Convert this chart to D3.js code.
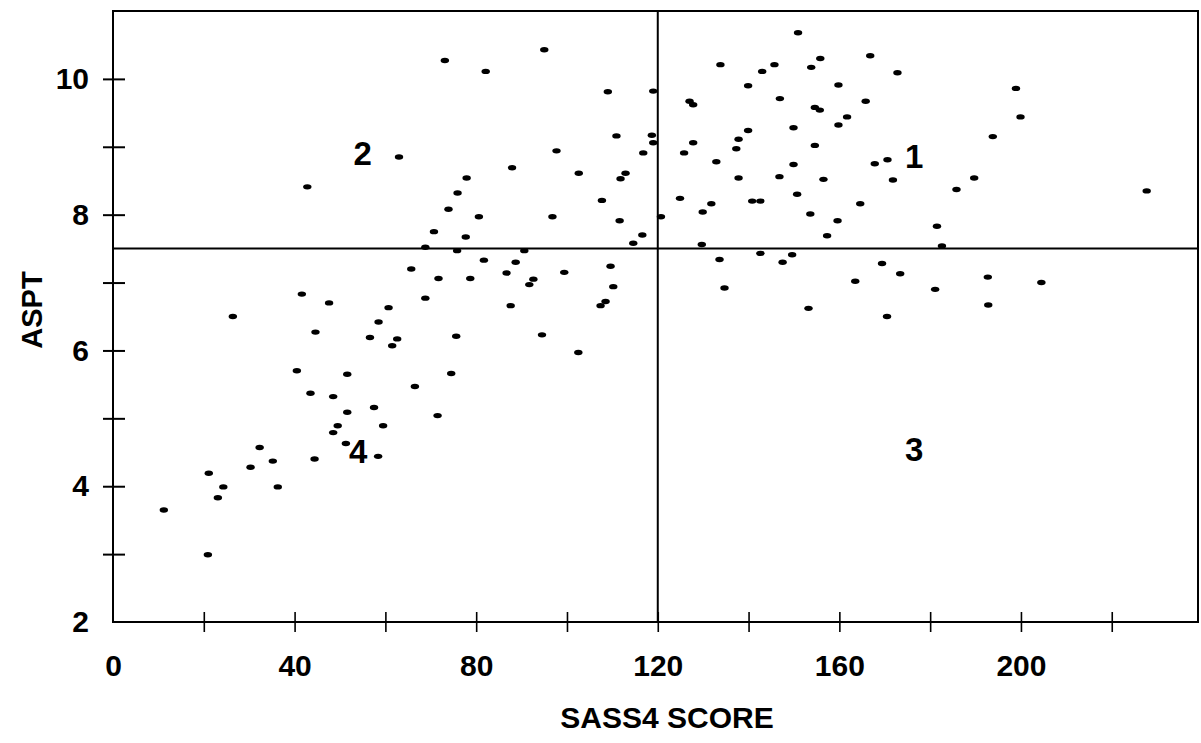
<!DOCTYPE html>
<html>
<head>
<meta charset="utf-8">
<script src="https://cdn.jsdelivr.net/npm/d3@7"></script>
<style>
  body { margin: 0; background: #fff; }
  svg { display: block; }
  text { font-family: "Liberation Sans", Arial, sans-serif; fill: #000; }
</style>
</head>
<body>
<div id="chart"></div>
<script>
// SASS4 score vs ASPT
var sass = [
  42.8, 41.6, 47.6, 26.4, 58.5, 44.6, 56.6, 40.5, 51.6, 43.5, 48.5, 57.5, 51.6, 49.5, 48.5, 51.3, 58.4, 44.4,
  32.3, 35.2, 30.3, 21.1, 24.3, 36.3, 23.1, 11.2, 20.9,
  62.6, 61.5, 75.6, 94.5, 102.5, 74.5, 66.5, 71.5, 59.5,
  95.0, 73.1, 82.1, 109.0, 119.0, 110.9, 118.7, 119.0, 116.8, 97.7, 63.0, 87.9, 102.6, 112.9, 111.8, 77.9,
  75.9, 73.9, 107.7, 80.6, 96.8, 120.7, 111.6, 70.7, 77.7, 116.6, 114.6, 68.8, 75.8, 90.6,
  81.7, 88.7, 65.7, 71.7, 78.7, 86.7, 92.6, 91.7, 99.4, 109.6, 110.2, 108.5, 107.4, 68.8, 87.6, 60.7,
  150.9, 133.8, 145.7, 143.0, 153.8, 155.8, 166.8, 172.8, 139.9, 159.8, 127.0, 127.8, 146.9, 165.8, 154.6,
  155.7, 161.7, 159.8, 149.9, 139.9, 137.8, 137.3, 127.8, 125.8, 154.6, 132.9, 149.9, 167.8, 170.6, 171.8,
  137.8, 146.8, 156.5, 124.9, 129.9, 131.8, 140.8, 142.6, 150.7, 164.6, 153.6, 159.6, 157.3, 181.5, 182.6, 129.7,
  133.6, 134.7, 142.6, 147.5, 149.6, 153.2, 163.5, 169.4, 173.4, 170.5, 181.1,
  198.9, 199.9, 193.8, 189.7, 185.8, 227.7, 192.7, 204.5, 192.8
];
var aspt = [
  8.41, 6.83, 6.70, 6.50, 6.42, 6.27, 6.19, 5.70, 5.65, 5.37, 5.32, 5.16, 5.09, 4.89, 4.79, 4.63, 4.44, 4.40,
  4.57, 4.37, 4.28, 4.19, 3.99, 3.99, 3.83, 3.65, 2.99,
  6.17, 6.07, 6.21, 6.23, 5.97, 5.66, 5.47, 5.04, 4.89,
  10.43, 10.27, 10.11, 9.81, 9.82, 9.16, 9.17, 9.06, 8.91, 8.94, 8.85, 8.69, 8.61, 8.61, 8.53, 8.54,
  8.32, 8.08, 8.21, 7.97, 7.97, 7.97, 7.91, 7.75, 7.67, 7.70, 7.58, 7.52, 7.47, 7.47,
  7.33, 7.30, 7.20, 7.06, 7.06, 7.14, 7.05, 6.97, 7.15, 7.24, 6.94, 6.72, 6.66, 6.77, 6.66, 6.63,
  10.68, 10.21, 10.21, 10.11, 10.17, 10.30, 10.34, 10.09, 9.90, 9.91, 9.67, 9.62, 9.71, 9.67, 9.58,
  9.54, 9.44, 9.32, 9.28, 9.24, 9.11, 8.97, 9.06, 8.91, 9.02, 8.78, 8.74, 8.75, 8.81, 8.51,
  8.54, 8.56, 8.52, 8.24, 8.04, 8.16, 8.20, 8.20, 8.30, 8.16, 8.01, 7.91, 7.69, 7.83, 7.54, 7.56,
  7.34, 6.92, 7.43, 7.30, 7.41, 6.62, 7.02, 7.28, 7.13, 6.50, 6.90,
  9.86, 9.44, 9.15, 8.54, 8.37, 8.35, 7.08, 7.00, 6.67
];

var xTicks = [0, 20, 40, 60, 80, 100, 120, 140, 160, 180, 200, 220];
var yTicks = [2, 3, 4, 5, 6, 7, 8, 9, 10];
var xCut = 120, yCut = 7.5;   // quadrant split
var quadNames = ["1", "2", "3", "4"];
var quadX = [176.5, 55, 176.5, 54];
var quadY = [8.86, 8.9, 4.55, 4.52];

var W = 1201, H = 743;
var svg = d3.select("#chart").append("svg").attr("width", W).attr("height", H);

var x = d3.scaleLinear().domain([0, 239]).range([113, 1198]);
var y = d3.scaleLinear().domain([2, 11]).range([622, 11]);

var data = sass.map(function(d, i) { return {s: d, a: aspt[i]}; });

// frame
svg.append("rect")
  .attr("x", x(0)).attr("y", y(11))
  .attr("width", x(239) - x(0)).attr("height", y(2) - y(11))
  .attr("fill", "none").attr("stroke", "#000").attr("stroke-width", 2);

// axes
var yAxis = svg.append("g")
  .attr("transform", "translate(" + x(0) + ",0)")
  .call(d3.axisLeft(y).tickValues(yTicks)
    .tickFormat(function(d) { return d % 2 == 0 ? d : ""; })
    .tickSize(10).tickPadding(14));
yAxis.select(".domain").remove();
yAxis.selectAll(".tick line").attr("x1", 12).attr("x2", -10).attr("stroke", "#000").attr("stroke-width", 2);
yAxis.selectAll(".tick")
  .filter(function(d) { return d == 2; }).select("line").remove();
yAxis.selectAll("text").attr("font-size", 30).attr("font-weight", "bold")
  .attr("font-family", "Liberation Sans, Arial, sans-serif");

var xAxis = svg.append("g")
  .attr("transform", "translate(0," + y(2) + ")")
  .call(d3.axisBottom(x).tickValues(xTicks)
    .tickFormat(function(d) { return d % 40 == 0 ? d : ""; })
    .tickSize(10).tickPadding(23));
xAxis.select(".domain").remove();
xAxis.selectAll(".tick line").attr("y1", -10).attr("y2", 10).attr("stroke", "#000").attr("stroke-width", 1.6);
xAxis.selectAll(".tick")
  .filter(function(d) { return d == 0; }).select("line").remove();
xAxis.selectAll("text").attr("font-size", 30).attr("font-weight", "bold")
  .attr("font-family", "Liberation Sans, Arial, sans-serif");

// quadrant lines
svg.append("line")
  .attr("x1", x(0)).attr("x2", x(239))
  .attr("y1", y(yCut)).attr("y2", y(yCut))
  .attr("stroke", "#000").attr("stroke-width", 2);
svg.append("line")
  .attr("x1", x(xCut)).attr("x2", x(xCut))
  .attr("y1", y(11)).attr("y2", y(2))
  .attr("stroke", "#000").attr("stroke-width", 2);

// points
svg.selectAll(".pt")
  .data(data)
  .enter().append("ellipse")
  .attr("class", "pt")
  .attr("cx", function(d) { return x(d.s); })
  .attr("cy", function(d) { return y(d.a); })
  .attr("rx", 4.2).attr("ry", 2.7)
  .attr("fill", "#000");

// quadrant numbers
svg.selectAll(".quad")
  .data(quadNames)
  .enter().append("text")
  .attr("class", "quad")
  .attr("x", function(d, i) { return x(quadX[i]); })
  .attr("y", function(d, i) { return y(quadY[i]); })
  .attr("dy", "0.36em")
  .attr("text-anchor", "middle")
  .attr("font-size", 33)
  .attr("font-weight", "bold")
  .text(function(d) { return d; });

// axis titles
svg.append("text")
  .attr("x", 667).attr("y", 728)
  .attr("text-anchor", "middle")
  .attr("font-size", 30)
  .attr("font-weight", "bold")
  .text("SASS4 SCORE");
svg.append("text")
  .attr("transform", "translate(42,310) rotate(-90)")
  .attr("text-anchor", "middle")
  .attr("font-size", 29)
  .attr("font-weight", "bold")
  .text("ASPT");
</script>
</body>
</html>
